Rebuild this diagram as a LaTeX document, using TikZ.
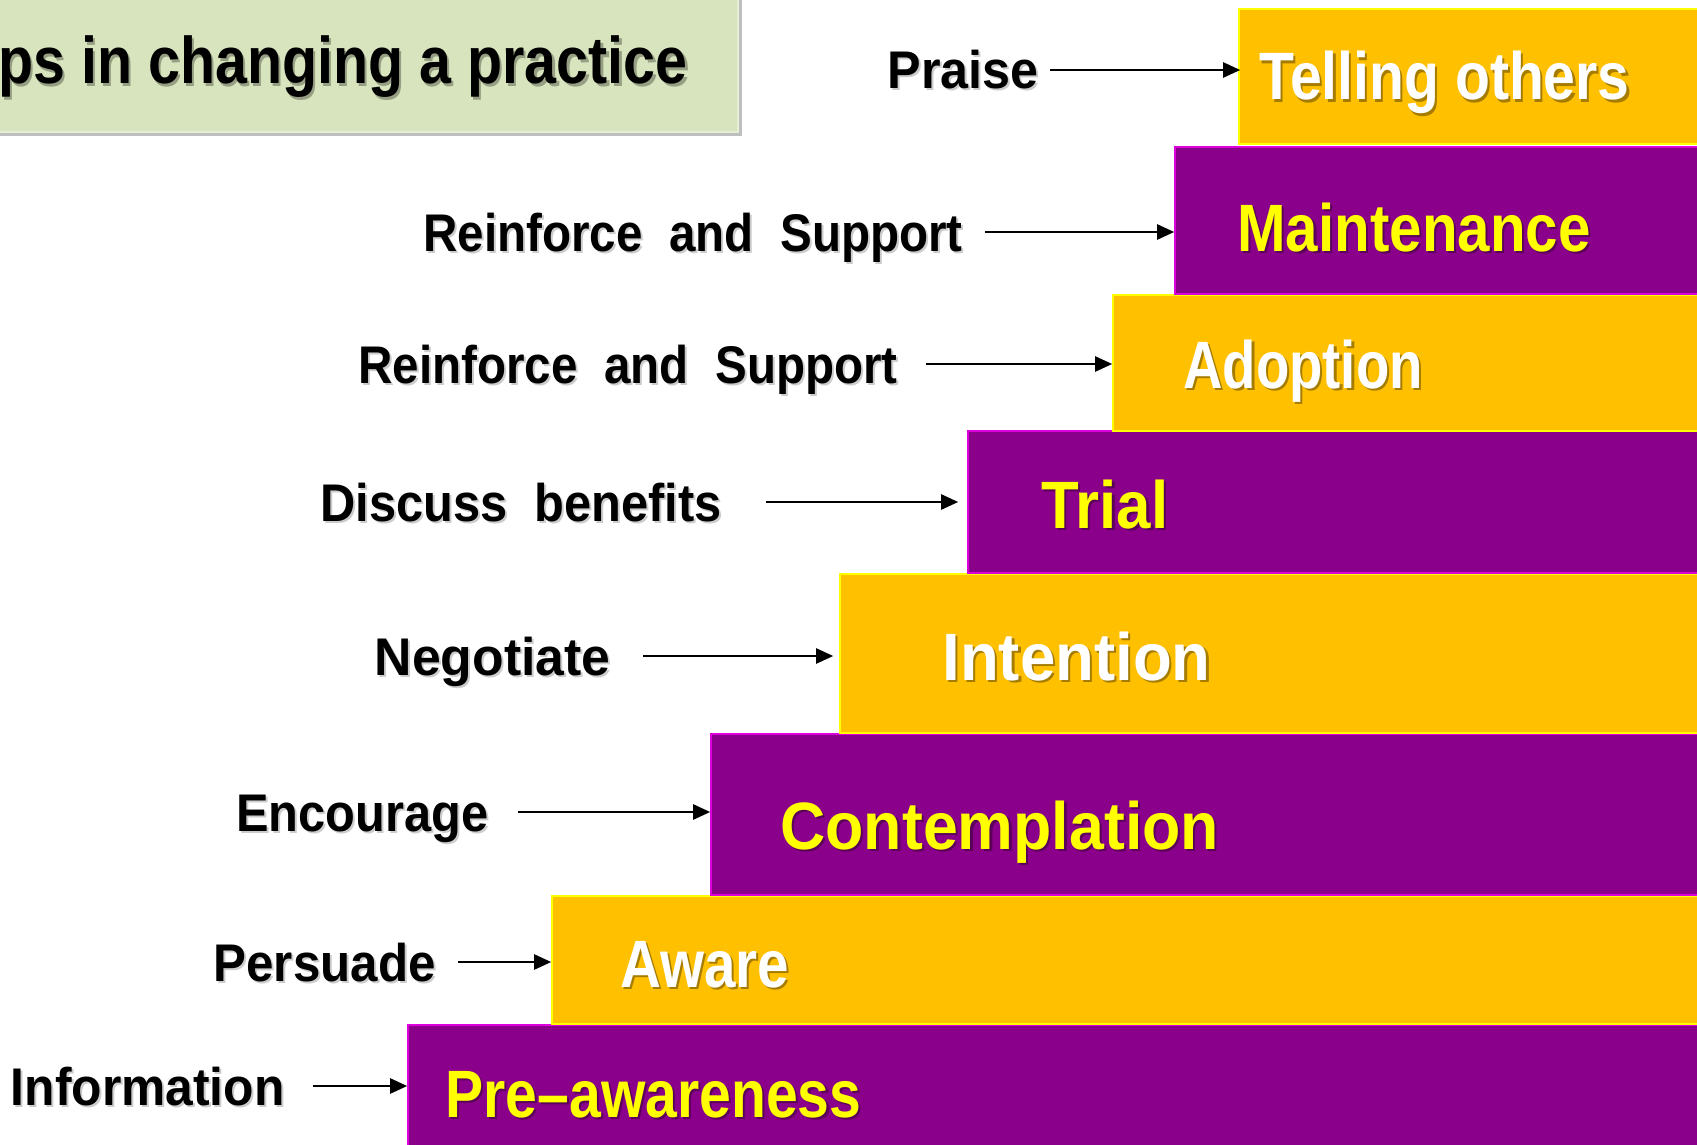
\documentclass[tikz,border=0pt]{standalone}
\usepackage{graphicx}
\usepackage{fontspec}
\setmainfont{Liberation Sans}
\newfontfamily\labfont{Liberation Sans}[FakeStretch=0.93]
\newfontfamily\stgfont{Liberation Sans}[FakeStretch=0.87]
\usetikzlibrary{fit,arrows.meta,shadows}
\definecolor{gold}{HTML}{FFC000}
\definecolor{plum}{HTML}{8B008B}
\definecolor{goldedge}{HTML}{FFFF00}
\definecolor{plumedge}{HTML}{DD00DD}
\definecolor{sage}{HTML}{D7E4BD}
\definecolor{sageedge}{HTML}{E6EED6}
\definecolor{ylw}{HTML}{FFFF00}
\tikzset{
  obox/.style={fill=gold, draw=goldedge, line width=0.8pt, inner sep=0pt},
  pbox/.style={fill=plum, draw=plumedge, line width=0.8pt, inner sep=0pt},
  stg/.style={font=\stgfont\bfseries\fontsize{33.5}{40}\selectfont, inner sep=0pt, anchor=base west},
  lab/.style={font=\labfont\bfseries\fontsize{26.5}{32}\selectfont, inner sep=0pt, anchor=east, text height=19pt, text depth=0pt},
  ttl/.style={font=\stgfont\bfseries\fontsize{33}{40}\selectfont, inner sep=0pt, anchor=base east},
  arr/.style={line width=1.2pt, -{Triangle[length=8.5pt,width=7.5pt]}},
}
\newcommand\stagetext[6]{%
  \node[stg, text=black, opacity=.35, xshift=1.1pt, yshift=-1.1pt] (#1s) at (#2,#3) {\scalebox{#5}[1]{#6}};
  \node[stg, text=#4] (#1) at (#2,#3) {\scalebox{#5}[1]{#6}};}
\newcommand\labeltext[5]{%
  \node[lab, text=black, opacity=.2, xshift=1pt, yshift=-1pt] (#1s) at (#2,#3) {\scalebox{#4}[1]{#5}};
  \node[lab, text=black] (#1) at (#2,#3) {\scalebox{#4}[1]{#5}};}
\begin{document}
\begin{tikzpicture}[x=0.5pt,y=-0.5pt]
\useasboundingbox (0,0) rectangle (1697,1145);
% title
\node[fill=sage, draw=sageedge, line width=0.8pt, inner sep=0pt,
      drop shadow={shadow xshift=2pt, shadow yshift=-2pt, fill=black, opacity=0.25},
      fit={(-30,-30) (738,132)}] (title) {};
\node[ttl, text=black, opacity=.3, xshift=1.2pt, yshift=-1.2pt] (titletxts) at (688,84) {ps in changing a practice};
\node[ttl, text=black] (titletxt) at (688,84) {ps in changing a practice};
% stage boxes
\node[pbox, fit={(408,1025) (1710,1160)}] (b8) {};
\node[obox, fit={(552,896) (1710,1024)}] (b7) {};
\node[pbox, fit={(711,734) (1710,895)}] (b6) {};
\node[obox, fit={(840,574) (1710,733)}] (b5) {};
\node[pbox, fit={(968,431) (1710,573)}] (b4) {};
\node[obox, fit={(1113,295) (1710,431)}] (b3) {};
\node[pbox, fit={(1175,147) (1710,294)}] (b2) {};
\node[obox, fit={(1239,9) (1710,144)}] (b1) {};
% stage texts
\stagetext{t1}{1259}{100}{white}{0.98}{Telling others}
\stagetext{t2}{1237}{251}{ylw}{1.0}{Maintenance}
\stagetext{t3}{1183}{388}{white}{0.936}{Adoption}
\stagetext{t4}{1041}{528}{ylw}{1.06}{Trial}
\stagetext{t5}{942}{680}{white}{1.09}{Intention}
\stagetext{t6}{780}{849}{ylw}{1.075}{Contemplation}
\stagetext{t7}{620}{987}{white}{0.97}{Aware}
\stagetext{t8}{445}{1117}{ylw}{0.98}{Pre–awareness}
% labels
\labeltext{l1}{1039}{70}{1.02}{Praise}
\labeltext{l2}{963}{232}{0.965}{Reinforce\ \ and\ \ Support}
\labeltext{l3}{898}{364}{0.965}{Reinforce\ \ and\ \ Support}
\labeltext{l4}{722}{502}{0.99}{Discuss\ \ benefits}
\labeltext{l5}{611}{656}{1.05}{Negotiate}
\labeltext{l6}{489}{812}{0.99}{Encourage}
\labeltext{l7}{436}{962}{1.0}{Persuade}
\labeltext{l8}{285}{1086}{1.01}{Information}
% arrows
\draw[arr, shorten >=-1pt] ([xshift=5.5pt]l1.east) -- (l1.east -| b1.west);
\draw[arr] ([xshift=11pt]l2.east) -- (l2.east -| b2.west);
\draw[arr] ([xshift=14pt]l3.east) -- (l3.east -| b3.west);
\draw[arr, shorten >=4.5pt] ([xshift=22pt]l4.east) -- (l4.east -| b4.west);
\draw[arr, shorten >=3pt] ([xshift=16pt]l5.east) -- (l5.east -| b5.west);
\draw[arr] ([xshift=14.5pt]l6.east) -- (l6.east -| b6.west);
\draw[arr] ([xshift=11pt]l7.east) -- (l7.east -| b7.west);
\draw[arr] ([xshift=14pt]l8.east) -- (l8.east -| b8.west);
\end{tikzpicture}
\end{document}
